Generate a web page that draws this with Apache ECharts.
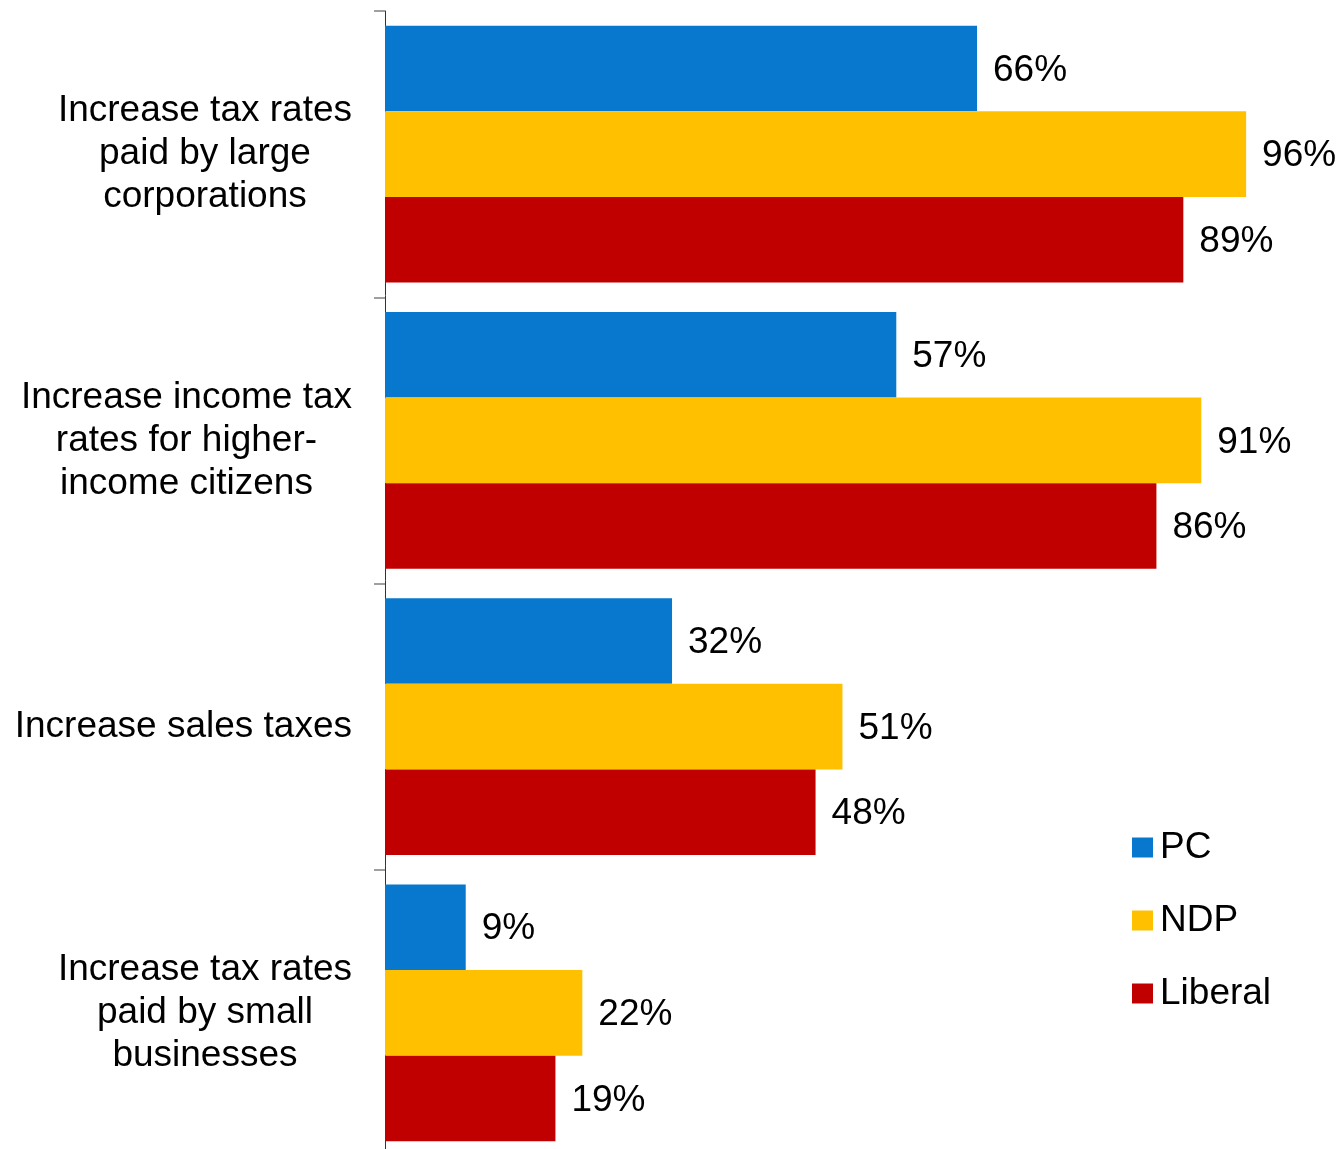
<!DOCTYPE html>
<html><head><meta charset="utf-8">
<script src="https://cdn.jsdelivr.net/npm/echarts@6/dist/echarts.min.js"></script>
<style>html,body{margin:0;padding:0;background:#fff}#c{width:1341px;height:1149px}</style>
</head><body><div id="c"></div>
<script>
var categories = [
  "Increase tax rates\npaid by large\ncorporations",
  "Increase income tax\nrates for higher-\nincome citizens",
  "Increase sales taxes",
  "Increase tax rates\npaid by small\nbusinesses"
];
var seriesNames = ["PC", "NDP", "Liberal"];
var pcValues = [66, 57, 32, 9];
var ndpValues = [96, 91, 51, 22];
var liberalValues = [89, 86, 48, 19];
var colors = ["#0778CD", "#FFC000", "#C00000"];

var font = "Liberation Sans, Arial, sans-serif";
function mk(name, data, color) {
  return {
    name: name, type: "bar", data: data,
    barGap: "0%", barCategoryGap: "10.3%",
    itemStyle: { color: color },
    label: { show: true, position: "right", distance: 16, offset: [0, 2], formatter: "{c}%",
      fontFamily: font, fontSize: 37, color: "#000" }
  };
}
var chart = echarts.init(document.getElementById("c"));
chart.setOption({
  animation: false,
  backgroundColor: "#fff",
  grid: { left: 385, top: 11, width: 897, height: 1145, containLabel: false, outerBoundsMode: "none" },
  xAxis: { type: "value", min: 0, max: 100, show: false },
  yAxis: {
    type: "category", data: categories, inverse: true,
    axisLine: { show: true, lineStyle: { color: "#333", width: 1 } },
    axisTick: { show: true, length: 11, lineStyle: { color: "#808080", width: 1.5 } },
    axisLabel: {
      margin: 33, fontFamily: font, fontSize: 37, color: "#000", lineHeight: 43,
      formatter: function (v) { return v.split("\n").map(function (l) { return "{c|" + l + "}"; }).join("\n"); },
      rich: { c: { align: "center", fontFamily: font, fontSize: 37, lineHeight: 43, color: "#000" } }
    }
  },
  legend: {
    orient: "vertical", left: 1132, top: 826, padding: 0,
    itemWidth: 21, itemHeight: 20, itemGap: 30,
    icon: "rect",
    textStyle: { fontFamily: font, fontSize: 37, color: "#000", lineHeight: 43, padding: [0, 0, 0, 2] },
    data: seriesNames
  },
  series: [
    mk(seriesNames[0], pcValues, colors[0]),
    mk(seriesNames[1], ndpValues, colors[1]),
    mk(seriesNames[2], liberalValues, colors[2])
  ]
});
</script></body></html>
